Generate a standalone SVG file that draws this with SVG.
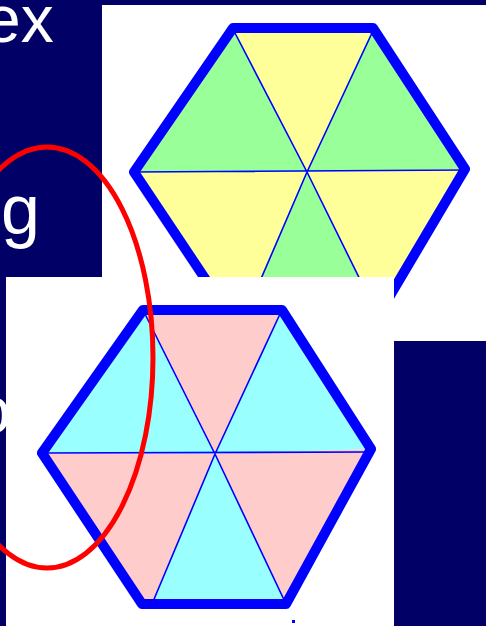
<svg xmlns="http://www.w3.org/2000/svg" width="486" height="626" viewBox="0 0 486 626">
<style>
.t{font-family:"Liberation Sans",Arial,sans-serif;fill:#fff}
.hex{fill:none;stroke:#0000ff;stroke-width:10;stroke-linejoin:round}
.in{stroke:#0000ff;stroke-width:1.6;fill:none}
.y{fill:#ffff99}.g{fill:#99ff99}.c{fill:#99ffff}.p{fill:#ffcccc}
</style>
<rect width="486" height="626" fill="#000066"/>
<g id="text">
<text class="t" x="-16" y="42" font-size="66">ex</text>
<text class="t" x="1" y="234" font-size="70">g</text>
<text class="t" x="-26" y="433" font-size="66">o</text>
</g>
<g id="top-picture">
<rect x="102" y="5" width="384" height="336" fill="#fff"/>
<polygon class="y" points="233,28 373,28 307,172"/>
<polygon class="g" points="233,28 307,172 134,172"/>
<polygon class="g" points="373,28 465,169 307,172"/>
<polygon class="y" points="134,172 307,172 245,316 230,316"/>
<polygon class="y" points="307,172 465,169 378,316"/>
<polygon class="g" points="245,316 307,172 378,316"/>
<path class="in" d="M235,33 L307,172 L378,316 M372,33 L307,172 L245,316 M134,172 L465,170"/>
<polygon class="hex" points="233,28 373,28 465,169 378,316 230,316 134,172"/>
</g>
<g id="bottom-picture">
<rect x="6" y="277" width="388" height="349" fill="#fff"/>
<polygon class="p" points="143,310 282,310 215,454"/>
<polygon class="c" points="143,310 215,454 42,453"/>
<polygon class="c" points="282,310 371,449 215,454"/>
<polygon class="p" points="42,453 215,454 152,604 142,604"/>
<polygon class="p" points="215,454 371,449 286,604"/>
<polygon class="c" points="152,604 215,454 286,604"/>
<path class="in" d="M145,314 L215,454 L286,604 M280,314 L215,454 L152,604 M42,453 L371,452"/>
<polygon class="hex" points="143,310 282,310 371,449 286,604 142,604 42,453"/>
<rect x="292" y="620" width="3" height="3" fill="#0000ff"/>
</g>
<g id="highlight">
<ellipse cx="47" cy="357.5" rx="106" ry="210.5" fill="none" stroke="#ff0000" stroke-width="5"/>
</g>
</svg>
